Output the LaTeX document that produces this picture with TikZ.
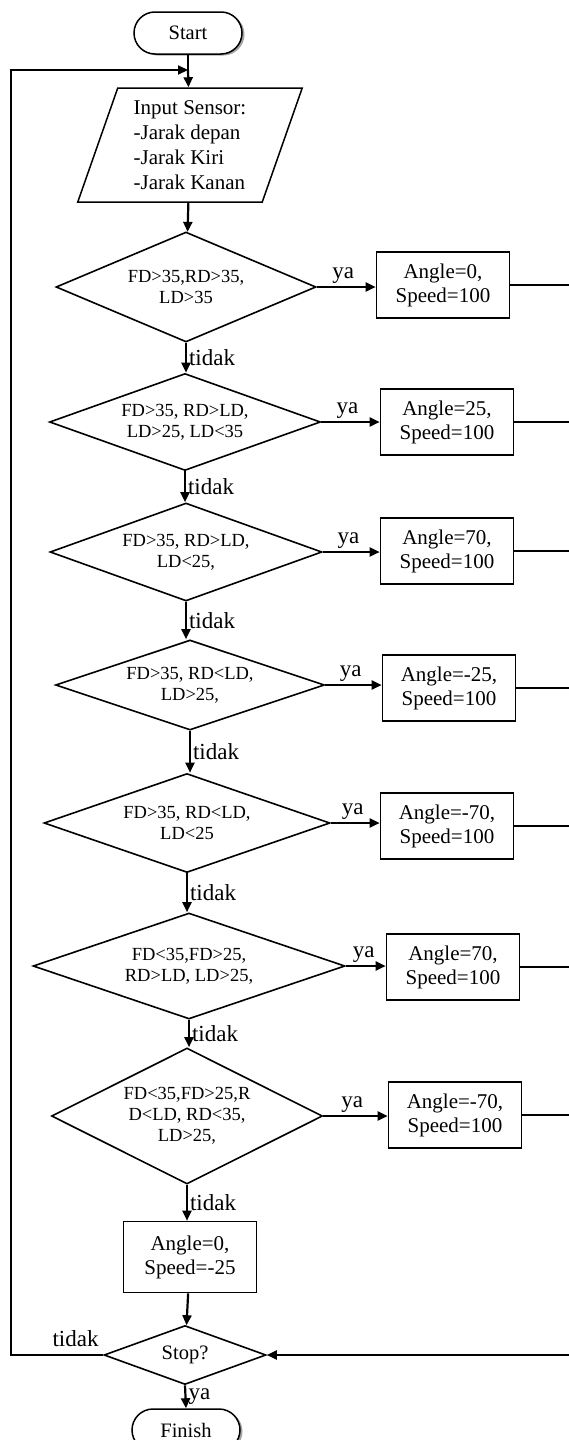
\documentclass[tikz,border=0pt]{standalone}
\usepackage{fontspec}
\setmainfont{Liberation Serif}
\usetikzlibrary{shapes.geometric,arrows.meta,shadows}

\begin{document}
\begin{tikzpicture}[x=1pt,y=-1pt,
    term/.style={draw,fill=white,line width=1.5,rounded corners=21pt,minimum width=108,minimum height=42,
      font=\fontsize{20.5}{22}\selectfont,
      drop shadow={shadow xshift=2.5pt,shadow yshift=-1.5pt,fill=gray!70,opacity=1}},
    io/.style={trapezium,draw,line width=1.5,trapezium left angle=71,trapezium right angle=109,
      trapezium stretches=true,minimum width=225,minimum height=114,
      align=left,font=\fontsize{21}{25}\selectfont},
    decision/.style={diamond,draw,line width=1.6,inner sep=0pt,align=center,
      font=\fontsize{18.5}{21}\selectfont},
    process/.style={rectangle,draw,line width=1.6,minimum width=133,minimum height=66,
      align=center,font=\fontsize{21}{24}\selectfont},
    flow/.style={line width=2.2,-{Triangle[length=10pt,width=9pt]}},
    link/.style={line width=1.2},
    lbl/.style={font=\fontsize{23}{24}\selectfont,inner sep=2pt}]
  \useasboundingbox (0,0) rectangle (569,1440);

  \node[term] (start) at (188,33) {Start};
  \node[io] (input) at (190,145) {Input Sensor:\\-Jarak depan\\-Jarak Kiri\\-Jarak Kanan};

  \node[decision,minimum width=260,minimum height=110,aspect=2.4] (d1) at (186,287) {FD>35,RD>35,\\LD>35};
  \node[decision,minimum width=271,minimum height=97,aspect=2.8] (d2) at (185,422) {FD>35, RD>LD,\\LD>25, LD<35};
  \node[decision,minimum width=272,minimum height=98,aspect=2.8] (d3) at (186,552) {FD>35, RD>LD,\\LD<25,};
  \node[decision,minimum width=269,minimum height=90,aspect=3] (d4) at (190,685) {FD>35, RD<LD,\\LD>25,};
  \node[decision,minimum width=286,minimum height=99,aspect=2.9] (d5) at (187,823) {FD>35, RD<LD,\\LD<25};
  \node[decision,minimum width=312,minimum height=106,aspect=2.9] (d6) at (189,966) {FD<35,FD>25,\\RD>LD, LD>25,};
  \node[decision,minimum width=271,minimum height=136,aspect=2] (d7) at (187,1116) {FD<35,FD>25,R\\D<LD, RD<35,\\LD>25,};

  \node[process] (a1) at (443,285) {Angle=0,\\Speed=100};
  \node[process] (a2) at (447,422) {Angle=25,\\Speed=100};
  \node[process] (a3) at (447,551) {Angle=70,\\Speed=100};
  \node[process] (a4) at (449,688) {Angle=-25,\\Speed=100};
  \node[process] (a5) at (447,826) {Angle=-70,\\Speed=100};
  \node[process] (a6) at (453,967) {Angle=70,\\Speed=100};
  \node[process] (a7) at (455,1115) {Angle=-70,\\Speed=100};
  \node[process,minimum height=71] (a8) at (190,1257) {Angle=0,\\Speed=-25};

  \node[decision,minimum width=162,minimum height=59,aspect=2.75,font=\fontsize{20.5}{24}\selectfont] (stop) at (185,1355) {Stop?};
  \node[term] (finish) at (186,1430) {Finish};

  \coordinate (join) at (188,70);
  \coordinate (back) at (11,1355);
  \coordinate (rail) at (569.5,285);

  \draw[line width=2.2] (start) -- (join);
  \draw[flow] (join) -- (input);
  \draw[flow] (input) -- (d1);
  \foreach \i/\j in {d1/d2,d2/d3,d3/d4,d4/d5,d5/d6,d6/d7,d7/a8}
    \draw[flow] (\i.south) -- node[lbl,right] (t-\i) {tidak} (\i.south |- \j.north);
  \foreach \i/\j in {d1/a1,d2/a2,d3/a3,d4/a4,d5/a5,d6/a6,d7/a7} {
    \draw[flow] (\i.east) -- node[lbl,above,pos=0.45] (y-\i) {ya} (\i.east -| \j.west);
    \draw[link] (\j.east) -- (\j.east -| rail);
  }
  \draw[flow] (a8) -- (stop);
  \draw[link] (rail) -- (stop.east -| rail);
  \draw[flow] (stop.east -| rail) -- (stop.east);
  \draw[flow] (stop.south) -- node[lbl,right] (y-stop) {ya} (finish.north);
  \draw[flow] (stop.west) -- node[lbl,above=5pt,pos=0.3] (t-stop) {tidak} (back) |- (join);
\end{tikzpicture}
\end{document}
